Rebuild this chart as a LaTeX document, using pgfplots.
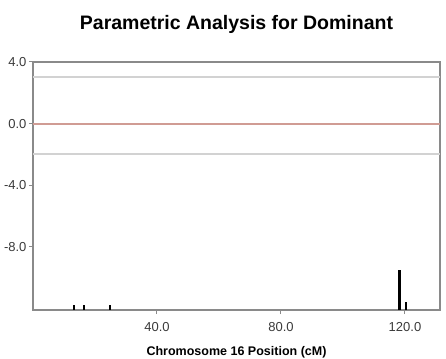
\documentclass[border=0pt]{standalone}
\usepackage{fontspec}
\setmainfont{Liberation Sans}
\usepackage{pgfplots}
\pgfplotsset{compat=1.18}
\definecolor{axgray}{HTML}{8A8A8A}
\definecolor{reflgray}{HTML}{D2D2D2}
\definecolor{zerored}{HTML}{D09C94}
\definecolor{ticktext}{HTML}{3A3A3A}
\begin{document}
\begin{tikzpicture}
\useasboundingbox (-33pt,-48pt) rectangle (413pt,310pt);
\begin{axis}[
  scale only axis,
  width=407pt, height=248pt,
  xmin=0, xmax=131.3,
  ymin=-12.1, ymax=4.0,
  axis line style={axgray, line width=1.3pt},
  xtick={40,80,120}, ytick={4,0,-4,-8},
  xticklabels={40.0,80.0,120.0},
  yticklabels={4.0,0.0,-4.0,-8.0},
  tick align=outside,
  tick style={axgray, line width=1pt},
  major tick length=4pt,
  xtick pos=bottom, ytick pos=left,
  ticklabel style={font=\fontsize{13}{15}\selectfont, text=ticktext},
  xticklabel style={yshift=-5pt},
  yticklabel style={xshift=1pt},
  /pgf/number format/assume math mode=true,
  xlabel={\textbf{Chromosome 16 Position (cM)}},
  xlabel style={font=\fontsize{12.5}{14}\selectfont, yshift=-8pt},
  title={\textbf{Parametric Analysis for Dominant}},
  title style={font=\fontsize{19.5}{22}\selectfont, yshift=19pt},
  clip=true,
]
\addplot[reflgray, line width=2pt, forget plot] coordinates {(0,3) (131.3,3)};
\addplot[reflgray, line width=2pt, forget plot] coordinates {(0,-2) (131.3,-2)};
\addplot[zerored, line width=2pt, forget plot] coordinates {(0,0) (131.3,0)};
\addplot[black, line width=2.2pt, forget plot] coordinates {(13.2,-12.1) (13.2,-11.75)};
\addplot[black, line width=2.2pt, forget plot] coordinates {(16.5,-12.1) (16.5,-11.75)};
\addplot[black, line width=2.2pt, forget plot] coordinates {(24.8,-12.1) (24.8,-11.75)};
\addplot[black, line width=2.4pt, forget plot] coordinates {(118.2,-12.1) (118.2,-9.5)};
\addplot[black, line width=2.2pt, forget plot] coordinates {(120.3,-12.1) (120.3,-11.6)};
\end{axis}
\end{tikzpicture}
\end{document}
